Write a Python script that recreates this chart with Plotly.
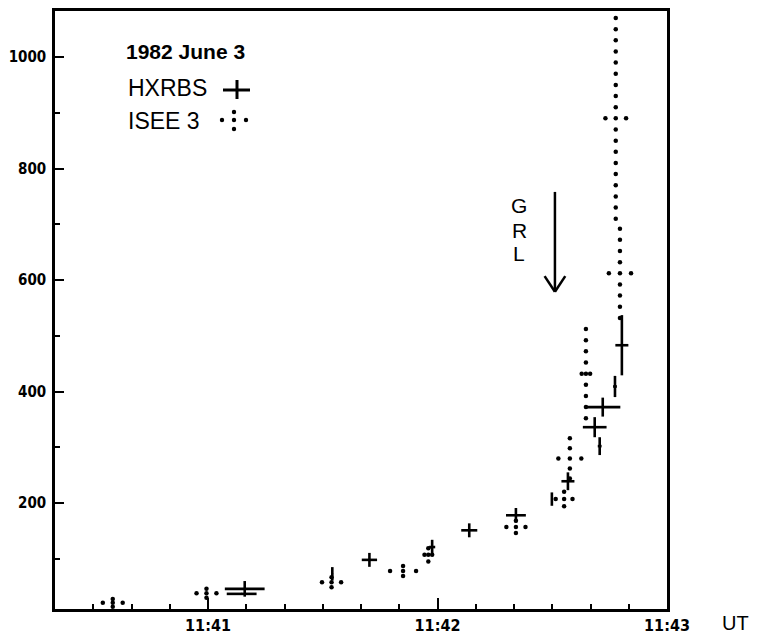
import numpy as np
import plotly.graph_objects as go

# ---- data (time in seconds after 11:40:00 UT, rate values) ----
hx_time = [69.6, 68.8, 92.5, 102.2, 118.6, 128.3, 140.5, 149.9, 154.1, 161.1, 162.4, 163.2, 166.4, 168.2]
hx_value = [46, 37, 73, 98, 121, 151, 178, 207, 239, 336, 302, 372, 409, 483]
hx_terr = [5.2, 3.9, 0, 2.0, 0.8, 2.1, 2.6, 0, 1.7, 3.1, 0.5, 4.6, 0.5, 1.7]
hx_verr = [14, 0, 12, 12.5, 13, 12.5, 13, 12, 16, 18, 16, 17, 19, 54]

isee_time = [35.1, 59.6, 92.3, 111.0, 117.6, 140.5, 153.1, 154.6, 158.8, 166.6, 167.7]
isee_value = [21, 38, 58, 78, 107, 157, 207, 280, 432, 890, 612]
isee_terr = [2.6, 2.6, 2.5, 3.4, 1.0, 2.5, 2.2, 3.0, 1.1, 2.7, 2.9]
isee_verr = [7, 8, 9, 9, 12, 11, 13, 36, 80, 180, 80]

x_tickvals = [60, 120, 180]
x_ticktext = ["11:41", "11:42", "11:43"]
x_minor = [30, 40, 50, 70, 80, 90, 100, 110, 130, 140, 150, 160, 170]
y_tickvals = [200, 400, 600, 800, 1000]
y_ticktext = ["200", "400", "600", "800", "1000"]
y_minor = [100, 300, 500, 700, 900]

grl_time = 150.7
grl_top = 758
grl_tip = 579

# ---- layout geometry (page pixels; the page body adds an 8px margin) ----
OFF = 8
PL, PT, PR, PB = 55, 11, 667, 609          # plot area on the page
W, H = 769 - 2 * OFF, 643 - 2 * OFF
L, T = PL - OFF, PT - OFF
R, B = W - (PR - OFF), H - (PB - OFF)

def px(x):
    return (x - PL) / (PR - PL)

def py(y):
    return (PB - y) / (PB - PT)

# ---- ISEE dotted crosses built from the data ----
dot_x, dot_y = [], []
for t, v, et, ev in zip(isee_time, isee_value, isee_terr, isee_verr):
    nt = max(1, int(round(et / 2.7)))
    for off in np.linspace(-et, et, 2 * nt + 1):
        dot_x.append(t + off)
        dot_y.append(v)
    nv = max(1, int(round(ev / 21.0)))
    for off in np.linspace(-ev, ev, 2 * nv + 1):
        if off != 0:
            dot_x.append(t)
            dot_y.append(v + off)

fig = go.Figure()

fig.add_trace(go.Scatter(
    x=hx_time, y=hx_value, mode="markers",
    marker=dict(size=2, color="black"),
    error_x=dict(type="data", array=hx_terr, width=0, thickness=2.6, color="black"),
    error_y=dict(type="data", array=hx_verr, width=0, thickness=2.6, color="black"),
    showlegend=False, hoverinfo="skip",
))

fig.add_trace(go.Scatter(
    x=dot_x, y=dot_y, mode="markers",
    marker=dict(size=4.5, color="black"),
    showlegend=False, hoverinfo="skip",
))

tickfont_y = dict(family="Liberation Sans Narrow, DejaVu Sans Condensed, Arial Narrow, Liberation Sans, sans-serif",
                  size=15, color="black", weight="bold")
tickfont_x = dict(family="Liberation Sans Narrow, DejaVu Sans Condensed, Arial Narrow, Liberation Sans, sans-serif",
                  size=16, color="black", weight="bold")

fig.update_xaxes(
    range=[20, 180], showline=True, mirror=True, linewidth=2.6, linecolor="black",
    showgrid=False, zeroline=False,
    tickvals=x_tickvals, ticktext=x_ticktext, ticks="inside", ticklen=11, tickwidth=2,
    tickcolor="black", tickfont=tickfont_x, ticklabelstandoff=0,
    minor=dict(tickvals=x_minor, ticks="inside", ticklen=5, tickwidth=2, tickcolor="black"),
)
fig.update_yaxes(
    range=[(614.5 - PB) * 200 / 111.5, (614.5 - PT) * 200 / 111.5],
    showline=True, mirror=True, linewidth=2.6, linecolor="black",
    showgrid=False, zeroline=False,
    tickvals=y_tickvals, ticktext=y_ticktext, ticks="inside", ticklen=9, tickwidth=2,
    tickcolor="black", tickfont=tickfont_y, ticklabelstandoff=3,
    minor=dict(tickvals=y_minor, ticks="inside", ticklen=5, tickwidth=2, tickcolor="black"),
)

sans = "Liberation Sans, Arial, sans-serif"
annos = [
    dict(text="1982 June 3", x=px(124), y=py(52), xanchor="left", yanchor="middle",
         font=dict(family=sans, size=21, color="black", weight="bold")),
    dict(text="HXRBS", x=px(126), y=py(88), xanchor="left", yanchor="middle",
         font=dict(family=sans, size=23, color="black")),
    dict(text="ISEE 3", x=px(126), y=py(121), xanchor="left", yanchor="middle",
         font=dict(family=sans, size=23, color="black")),
    dict(text="UT", x=px(735), y=py(623), xanchor="center", yanchor="middle",
         font=dict(family=sans, size=20, color="black")),
]
for letter, yy in zip(["G", "R", "L"], [205, 230, 254]):
    annos.append(dict(text=letter, x=px(519), y=py(yy), xanchor="center", yanchor="middle",
                      font=dict(family=sans, size=21, color="black")))
for a in annos:
    a.update(xref="paper", yref="paper", showarrow=False)
fig.update_layout(annotations=annos)

shapes = []
# legend "+" symbol
shapes.append(dict(type="line", xref="paper", yref="paper", x0=px(223), x1=px(250), y0=py(90), y1=py(90),
                   line=dict(color="black", width=3)))
shapes.append(dict(type="line", xref="paper", yref="paper", x0=px(237), x1=px(237), y0=py(80), y1=py(99),
                   line=dict(color="black", width=3)))
# legend dotted cross symbol
for cx, cy in [(222, 120), (234, 112), (234, 120), (234, 129), (246, 120)]:
    shapes.append(dict(type="circle", xref="paper", yref="paper",
                       x0=px(cx - 2.2), x1=px(cx + 2.2), y0=py(cy - 2.2), y1=py(cy + 2.2),
                       fillcolor="black", line=dict(width=0)))
# GRL arrow
shapes.append(dict(type="line", xref="x", yref="y", x0=grl_time, x1=grl_time, y0=grl_top, y1=grl_tip,
                   line=dict(color="black", width=2.5)))
for s in (-1, 1):
    shapes.append(dict(type="line", xref="x", yref="y", x0=grl_time + s * 2.7, x1=grl_time,
                       y0=grl_tip + 28, y1=grl_tip, line=dict(color="black", width=2.5)))
fig.update_layout(shapes=shapes)

fig.update_layout(
    width=W, height=H, margin=dict(l=L, r=R, t=T, b=B, autoexpand=False),
    paper_bgcolor="white", plot_bgcolor="white",
)

fig.write_html("out.html")
